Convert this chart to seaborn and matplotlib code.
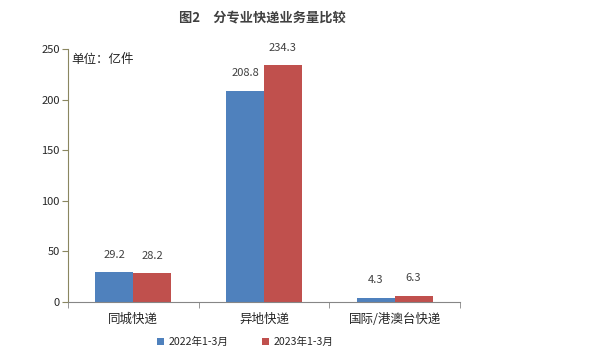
import pandas as pd
import numpy as np
import matplotlib.pyplot as plt
import seaborn as sns

categories = ["同城快递", "异地快递", "国际/港澳台快递"]
series = ["2022年1-3月", "2023年1-3月"]
values_2022 = [29.2, 208.8, 4.3]
values_2023 = [28.2, 234.3, 6.3]
colors = ["#4F81BD", "#C0504D"]

df = pd.DataFrame({
    "category": categories * 2,
    "period": [series[0]] * 3 + [series[1]] * 3,
    "value": values_2022 + values_2023,
})

sns.set_style("white")
plt.rcParams["font.family"] = ["Noto Sans CJK SC", "DejaVu Sans"]

fig = plt.figure(figsize=(5.93, 3.56), dpi=100)
ax = fig.add_axes([0.1147, 0.152, 0.661, 0.71])

sns.barplot(data=df, x="category", y="value", hue="period", palette=colors,
            width=0.58, gap=0, edgecolor="none", saturation=1, ax=ax, legend=True)

##value labels sitting a bit above each bar
for cont in ax.containers:
    ax.bar_label(cont, fmt="%.1f", padding=9, fontsize=8, color="#404040")

ax.set_ylim(0, 250)
ax.set_yticks(np.arange(0, 251, 50))
ax.set_xlim(-0.5, 2.5)
ax.set_xlabel("")
ax.set_ylabel("")
ax.tick_params(axis="y", labelsize=8, length=4, color="#8a8660", direction="out", left=True, pad=2)
ax.tick_params(axis="x", labelsize=9, length=0, pad=8)
ax.set_xticks([-0.5, 0.5, 1.5, 2.5], minor=True)
ax.tick_params(axis="x", which="minor", length=4, color="#868686", bottom=True)

for s in ["top", "right"]:
    ax.spines[s].set_visible(False)
ax.spines["left"].set_color("#8a8660")
ax.spines["bottom"].set_color("#868686")

ax.text(0.008, 0.985, "单位：亿件", transform=ax.transAxes, fontsize=9, va="top", ha="left")

fig.text(0.442, 0.952, "图2　分专业快递业务量比较", ha="center", va="center",
         fontsize=9.5, fontweight="bold", color="#404040")

ax.legend(loc="center", bbox_to_anchor=(0.452, -0.16), ncol=2, frameon=False,
          fontsize=7.6, handlelength=0.7, handleheight=0.7, columnspacing=3.2, handletextpad=0.4)

fig.savefig("out.png", dpi=100)
